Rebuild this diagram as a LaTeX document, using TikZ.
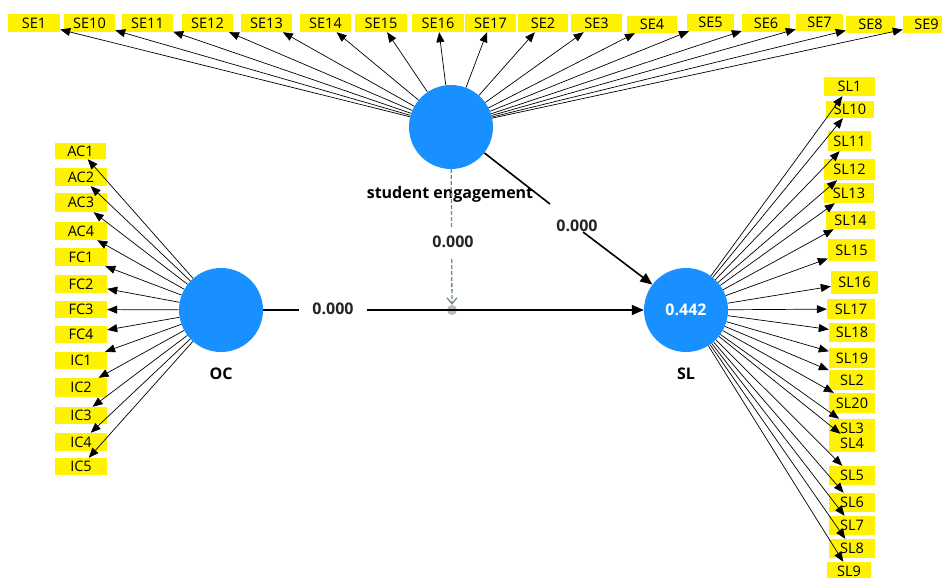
\documentclass[tikz,border=0pt]{standalone}
\usepackage{fontspec}
\setmainfont{Open Sans}
\usetikzlibrary{arrows.meta}
\definecolor{lvblue}{RGB}{24,144,255}
\definecolor{modgreen}{RGB}{115,140,115}
\definecolor{dotgrey}{RGB}{185,185,185}
\newcommand\indbox[6]{\node[ind, minimum width={#3-#2}, minimum height={#5-#4}] (#1) at ({(#2+#3)/2},{(#4+#5)/2}) {#6};}
\begin{document}
\begin{tikzpicture}[x=1pt,y=-1pt,
  ind/.style={fill=yellow, inner sep=0pt, text=black, font=\fontsize{14.5}{15}\selectfont},
  lv/.style={circle, fill=lvblue, minimum size=84pt, inner sep=0pt},
  ld/.style={-{Triangle[length=10pt,width=8pt]}, line width=0.7pt, black},
  mainpath/.style={line width=1.6pt, black},
  mainhead/.style={-{Triangle[length=12pt,width=10pt]}},
  coef/.style={font=\bfseries\fontsize{16}{17}\selectfont, text=black!85},
  lvname/.style={font=\bfseries\fontsize{16}{17}\selectfont, text=black}]
\useasboundingbox (0,0) rectangle (942,578);
% latent variables
\node[lv] (SE) at (451,127) {};
\node[lv] (OC) at (221,310) {};
\node[lv, text=white, font=\bfseries\fontsize{16}{17}\selectfont] (SL) at (686,310) {0.442};
\node[lvname] (SEname) at (450,194) {student engagement};
\node[lvname] (OCname) at (221,374) {OC};
\node[lvname] (SLname) at (686,374) {SL};
% SE indicators
\indbox{SE1}{8}{60}{14}{32}{SE1}
\indbox{SE10}{64}{115}{14}{32}{SE10}
\indbox{SE11}{122}{173}{14}{32}{SE11}
\indbox{SE12}{182}{233}{14}{32}{SE12}
\indbox{SE13}{241}{292}{14}{32}{SE13}
\indbox{SE14}{300}{351}{14}{32}{SE14}
\indbox{SE15}{355}{407}{14}{32}{SE15}
\indbox{SE16}{412}{464}{14}{32}{SE16}
\indbox{SE17}{465}{516}{14}{32}{SE17}
\indbox{SE2}{518}{568}{14}{32}{SE2}
\indbox{SE3}{571}{622}{14}{32}{SE3}
\indbox{SE4}{627}{677}{16}{33}{SE4}
\indbox{SE5}{687}{734}{14}{31}{SE5}
\indbox{SE6}{742}{790}{14}{32}{SE6}
\indbox{SE7}{796}{843}{14}{31}{SE7}
\indbox{SE8}{846}{895}{16}{33}{SE8}
\indbox{SE9}{903}{950}{16}{33}{SE9}
% OC indicators
\indbox{AC1}{55}{106}{143}{159}{AC1}
\indbox{AC2}{55}{107}{168}{186}{AC2}
\indbox{AC3}{55}{107}{193}{212}{AC3}
\indbox{AC4}{55}{107}{222}{240}{AC4}
\indbox{FC1}{55}{107}{248}{266}{FC1}
\indbox{FC2}{55}{107}{275}{293}{FC2}
\indbox{FC3}{55}{107}{301}{318}{FC3}
\indbox{FC4}{55}{107}{326}{343}{FC4}
\indbox{IC1}{55}{107}{352}{369}{IC1}
\indbox{IC2}{55}{107}{378}{397}{IC2}
\indbox{IC3}{55}{107}{407}{424}{IC3}
\indbox{IC4}{55}{107}{433}{451}{IC4}
\indbox{IC5}{55}{107}{458}{475}{IC5}
% SL indicators
\indbox{SL1}{824}{875}{77}{96}{SL1}
\indbox{SL10}{826}{874}{101}{118}{SL10}
\indbox{SL11}{828}{871}{131}{151}{SL11}
\indbox{SL12}{824}{875}{159}{180}{SL12}
\indbox{SL13}{824}{874}{183}{203}{SL13}
\indbox{SL14}{826}{875}{211}{229}{SL14}
\indbox{SL15}{828}{875}{239}{261}{SL15}
\indbox{SL16}{831}{878}{271}{294}{SL16}
\indbox{SL17}{827}{875}{299}{319}{SL17}
\indbox{SL18}{829}{875}{323}{342}{SL18}
\indbox{SL19}{829}{875}{348}{368}{SL19}
\indbox{SL2}{829}{875}{370}{390}{SL2}
\indbox{SL20}{829}{875}{393}{413}{SL20}
\indbox{SL3}{829}{875}{419}{437}{SL3}
\indbox{SL4}{829}{875}{434}{452}{SL4}
\indbox{SL5}{829}{875}{466}{485}{SL5}
\indbox{SL6}{829}{875}{493}{512}{SL6}
\indbox{SL7}{829}{875}{516}{535}{SL7}
\indbox{SL8}{829}{875}{539}{558}{SL8}
\indbox{SL9}{827}{871}{562}{580}{SL9}
% loadings
\foreach \n in {1,...,17} \draw[ld] (SE) -- (SE\n);
\foreach \n in {1,...,4} {\draw[ld] (OC) -- (AC\n); \draw[ld] (OC) -- (FC\n);}
\foreach \n in {1,...,5} \draw[ld] (OC) -- (IC\n);
\foreach \n in {1,...,20} \draw[ld] (SL) -- (SL\n);
% moderation
\node[circle, fill=dotgrey, minimum size=10pt, inner sep=0pt] (dot) at (452,310) {};
\draw[modgreen, line width=1.3pt, dash pattern=on 4pt off 2pt, -{Straight Barb[length=6pt,width=10pt]}] (SE) -- (dot);
\node[coef, fill=white, minimum height=30pt, inner sep=1pt] (c2) at (453,242) {0.000};
% structural paths
\draw[mainpath, mainhead] (OC) -- (SL);
\node[coef, fill=white, minimum width=68pt, inner sep=1pt] (c1) at (333,309) {0.000};
\coordinate (g1) at (550,204);
\coordinate (g2) at (583,232);
\draw[mainpath] (SE) -- (g1);
\node[coef] (c3) at (577,226) {0.000};
\draw[mainpath, mainhead] (g2) -- (SL);
\end{tikzpicture}
\end{document}
